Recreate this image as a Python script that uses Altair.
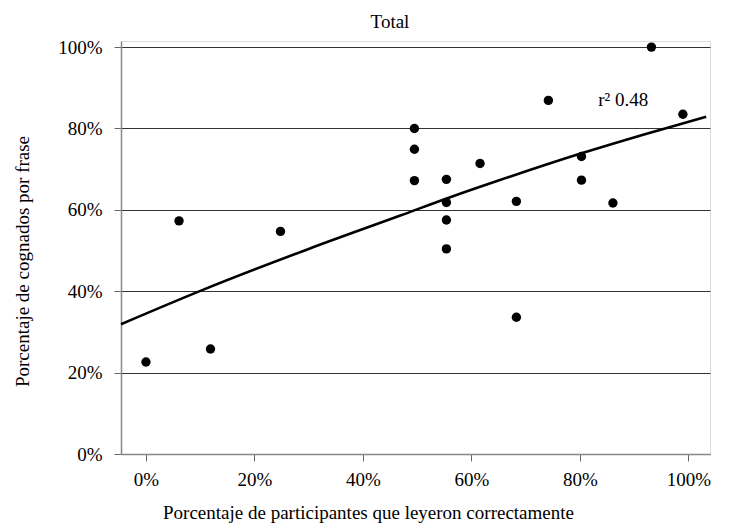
import altair as alt
import pandas as pd

FONT = "Liberation Serif"

# Scatter values (percent)
x_vals = [0.0, 6.1, 11.9, 24.8, 49.5, 49.5, 49.5, 55.4, 55.4, 55.4, 55.4,
          61.6, 68.3, 68.3, 74.2, 80.3, 80.3, 86.1, 93.2, 99.0]
y_vals = [22.6, 57.3, 25.8, 54.7, 80.0, 74.9, 67.2, 67.5, 61.8, 57.5, 50.4,
          71.4, 62.1, 33.6, 86.9, 73.1, 67.3, 61.7, 100.0, 83.5]

# Trend curve (percent)
curve_x = [-4.6, 10.6, 30.0, 46.9, 56.1, 65.0, 80.3, 92.0, 103.3]
curve_y = [31.9, 40.4, 50.4, 58.6, 63.1, 67.2, 73.9, 78.6, 82.9]

tick_vals = [0, 0.2, 0.4, 0.6, 0.8, 1.0]

pts = pd.DataFrame({"x": [v / 100 for v in x_vals], "y": [v / 100 for v in y_vals]})
curve = pd.DataFrame({"x": [v / 100 for v in curve_x], "y": [v / 100 for v in curve_y]})
lbl = pd.DataFrame({"x": [0.834], "y": [0.855], "t": ["r² 0.48"]})
ttl = pd.DataFrame({"x": [0.45], "y": [1.047], "t": ["Total"]})

xscale = alt.Scale(domain=[-0.046, 1.04], nice=False, zero=False)
yscale = alt.Scale(domain=[0, 1.015], nice=False)

xaxis = alt.Axis(
    values=tick_vals, format=".0%", grid=False,
    title="Porcentaje de participantes que leyeron correctamente",
    titleFont=FONT, titleFontSize=19, titleFontWeight="normal", titleColor="black",
    titleX=247, titleY=64, titleBaseline="alphabetic", titleAnchor="middle",
    labelFont=FONT, labelFontSize=19, labelColor="black", labelPadding=9,
    domainColor="#888888", domainWidth=1.5, tickColor="#666666", tickSize=7,
)
yaxis = alt.Axis(
    values=tick_vals, format=".0%", grid=True, gridColor="#333333", gridWidth=1,
    title="Porcentaje de cognados por frase",
    titleFont=FONT, titleFontSize=19, titleFontWeight="normal", titleColor="black",
    titleX=-93, titleY=220, titleBaseline="alphabetic", titleAnchor="middle",
    labelFont=FONT, labelFontSize=19, labelColor="black", labelPadding=12,
    domainColor="#888888", domainWidth=1.5, tickColor="#666666", tickSize=7,
)

points = alt.Chart(pts).mark_circle(size=88, color="black", opacity=1).encode(
    x=alt.X("x:Q", scale=xscale, axis=xaxis),
    y=alt.Y("y:Q", scale=yscale, axis=yaxis),
)
line = alt.Chart(curve).mark_line(color="black", strokeWidth=2.6, interpolate="monotone").encode(
    x=alt.X("x:Q", scale=xscale),
    y=alt.Y("y:Q", scale=yscale),
)
label = alt.Chart(lbl).mark_text(align="left", baseline="alphabetic", font=FONT, fontSize=19, color="black").encode(
    x=alt.X("x:Q", scale=xscale),
    y=alt.Y("y:Q", scale=yscale),
    text="t:N",
)
title = alt.Chart(ttl).mark_text(align="center", baseline="alphabetic", font=FONT, fontSize=19, color="black").encode(
    x=alt.X("x:Q", scale=xscale),
    y=alt.Y("y:Q", scale=yscale),
    text="t:N",
)

chart = alt.layer(line, points, label, title).properties(
    width=589, height=413,
    autosize=alt.AutoSizeParams(type="none"),
    padding={"left": 113, "top": 33, "right": 10, "bottom": 72},
).configure_view(stroke=None).configure(background="white")

chart.save("out.html", embed_options={"renderer": "svg", "actions": False})
